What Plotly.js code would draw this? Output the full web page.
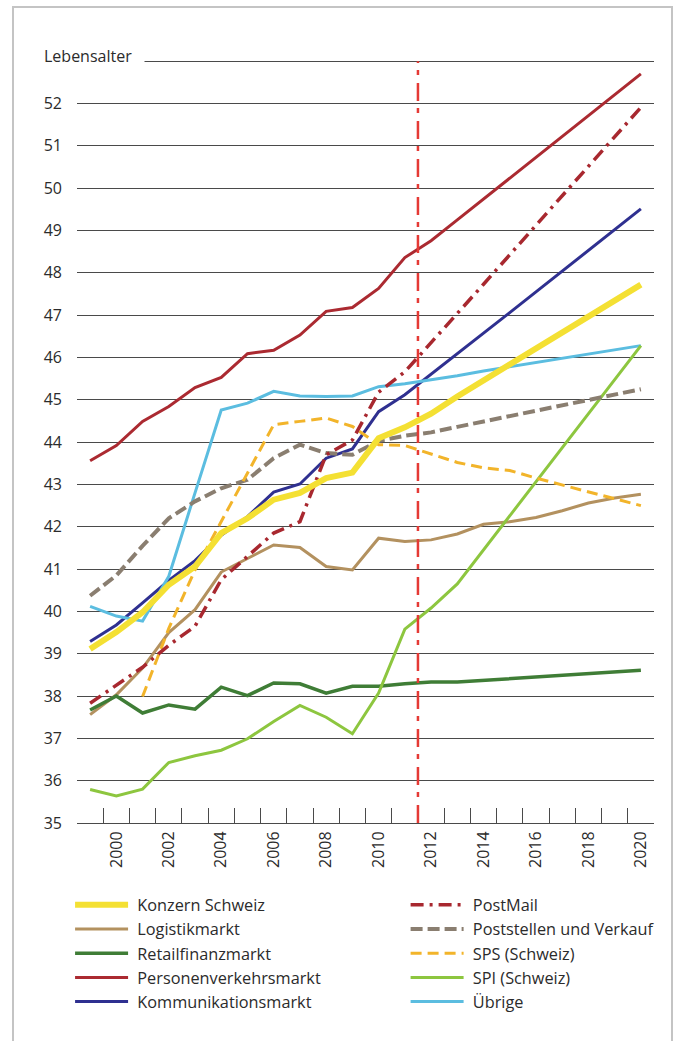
<!DOCTYPE html>
<html>
<head>
<meta charset="utf-8">
<script src="https://cdn.plot.ly/plotly-3.0.1.min.js"></script>
<style>html,body{margin:0;padding:0;background:#fff;}#chart{width:675px;height:1041px;}</style>
</head>
<body>
<div id="chart"></div>
<script>
// ---- data ----
var years = [1999,2000,2001,2002,2003,2004,2005,2006,2007,2008,2009,2010,2011,2012,2013,2014,2015,2016,2017,2018,2019,2020];
var xTickVals = [2000,2002,2004,2006,2008,2010,2012,2014,2016,2018,2020];
var xTickText = ["2000","2002","2004","2006","2008","2010","2012","2014","2016","2018","2020"];
var xBoundaryTicks = [1999.5,2000.5,2001.5,2002.5,2003.5,2004.5,2005.5,2006.5,2007.5,2008.5,2009.5,2010.5,2011.5,2012.5,2013.5,2014.5,2015.5,2016.5,2017.5,2018.5,2019.5];
var yTickVals = [35,36,37,38,39,40,41,42,43,44,45,46,47,48,49,50,51,52,53];
var yTickText = ["35","36","37","38","39","40","41","42","43","44","45","46","47","48","49","50","51","52",""];
var yAxisLabel = "Lebensalter";
var forecastStart = 2011.5;

var konzern      = [39.11,39.51,39.98,40.63,41.06,41.85,42.20,42.64,42.80,43.15,43.28,44.09,44.35,44.67,45.08,45.46,45.84,46.21,46.59,46.97,47.34,47.72];
var logistik     = [37.56,38.03,38.66,39.50,40.04,40.93,41.25,41.57,41.51,41.06,40.98,41.73,41.65,41.69,41.83,42.06,42.12,42.22,42.38,42.56,42.68,42.77];
var retail       = [37.67,38.00,37.60,37.79,37.69,38.21,38.01,38.31,38.29,38.07,38.23,38.23,38.29,38.33,38.33,38.37,38.41,38.45,38.49,38.53,38.57,38.61];
var personen     = [43.56,43.92,44.49,44.84,45.29,45.53,46.09,46.17,46.53,47.09,47.18,47.63,48.36,48.76,49.25,49.74,50.23,50.72,51.21,51.71,52.20,52.70];
var kommunikation= [39.29,39.68,40.20,40.73,41.20,41.80,42.24,42.82,43.01,43.62,43.84,44.72,45.12,45.60,46.09,46.57,47.06,47.55,48.04,48.53,49.02,49.51];
var postmail     = [37.83,38.26,38.68,39.20,39.65,40.75,41.30,41.85,42.12,43.70,44.05,45.18,45.66,46.34,47.04,47.73,48.43,49.12,49.82,50.52,51.21,51.91];
var poststellen  = [40.37,40.85,41.55,42.20,42.60,42.91,43.11,43.62,43.94,43.74,43.70,44.03,44.15,44.23,44.36,44.49,44.61,44.74,44.87,45.00,45.12,45.25];
var sps          = [null,null,37.99,39.60,40.98,42.12,43.27,44.41,44.49,44.57,44.37,43.94,43.92,43.72,43.52,43.39,43.33,43.15,42.99,42.83,42.66,42.50];
var spi          = [35.79,35.64,35.80,36.43,36.59,36.72,36.99,37.40,37.78,37.50,37.11,38.07,39.58,40.08,40.65,41.45,42.26,43.06,43.87,44.67,45.48,46.28];
var uebrige      = [40.12,39.89,39.77,40.83,42.80,44.76,44.92,45.20,45.09,45.08,45.09,45.31,45.38,45.47,45.57,45.68,45.78,45.88,45.98,46.08,46.18,46.28];

var FONT = "'Open Sans', 'Noto Sans', sans-serif";
var TXT = '#2b2b2b';
var GRID = '#4a4a4a';
var PAD = '\u00a0';

function tr(name, y, color, width, dash, legend, rank) {
  return {
    type: 'scatter', mode: 'lines', name: PAD + name, x: years, y: y,
    line: {color: color, width: width, dash: dash || 'solid', shape: 'linear'},
    connectgaps: false, legend: legend, legendrank: rank, hoverinfo: 'skip'
  };
}

var data = [
  tr('Personenverkehrsmarkt', personen, '#ab2a31', 3, 'solid', 'legend', 4),
  tr('Kommunikationsmarkt', kommunikation, '#2f3090', 3, 'solid', 'legend', 5),
  tr('Übrige', uebrige, '#5bbde0', 3, 'solid', 'legend2', 10),
  tr('Logistikmarkt', logistik, '#b3915f', 3, 'solid', 'legend', 2),
  tr('Retailfinanzmarkt', retail, '#3f7d36', 3.5, 'solid', 'legend', 3),
  tr('SPI (Schweiz)', spi, '#8dc63f', 3, 'solid', 'legend2', 9),
  tr('Poststellen und Verkauf', poststellen, '#8a7e70', 4, '12px,5px', 'legend2', 7),
  tr('SPS (Schweiz)', sps, '#f2b42a', 3, '11px,6px', 'legend2', 8),
  tr('PostMail', postmail, '#a8282f', 3.5, '13px,6px,3px,6px', 'legend2', 6),
  tr('Konzern Schweiz', konzern, '#f4e033', 6, 'solid', 'legend', 1)
];

var legendCommon = {
  orientation: 'v', xanchor: 'left', yanchor: 'top',
  bgcolor: 'rgba(0,0,0,0)', borderwidth: 0,
  font: {family: FONT, size: 16.3, color: TXT},
  itemwidth: 53, tracegroupgap: 0, itemclick: false, itemdoubleclick: false
};

var layout = {
  width: 675, height: 1041,
  margin: {l: 77, r: 21, t: 57, b: 218, pad: 0},
  paper_bgcolor: '#ffffff', plot_bgcolor: '#ffffff',
  showlegend: true,
  font: {family: FONT, size: 16, color: TXT},
  xaxis: {
    range: [1998.5, 2020.5], fixedrange: true,
    tickmode: 'array', tickvals: xTickVals, ticktext: xTickText,
    tickangle: -90, ticks: '', ticklabelstandoff: 1,
    tickfont: {family: FONT, size: 16, color: TXT},
    showgrid: false, zeroline: false,
    showline: true, linecolor: GRID, linewidth: 1,
    minor: {tickmode: 'array', tickvals: xBoundaryTicks, ticks: 'inside', ticklen: 15, tickwidth: 1, tickcolor: GRID, showgrid: false}
  },
  yaxis: {
    range: [35, 53.1], fixedrange: true,
    tickmode: 'array', tickvals: yTickVals, ticktext: yTickText,
    ticks: '', ticklabelstandoff: 14, ticklabelshift: -6.5,
    tickfont: {family: FONT, size: 16, color: TXT},
    showgrid: true, gridcolor: GRID, gridwidth: 1,
    zeroline: false, showline: false
  },
  legend: Object.assign({}, legendCommon, {x: -0.012, y: -0.0845}),
  legend2: Object.assign({}, legendCommon, {x: 0.5695, y: -0.0845}),
  annotations: [{
    xref: 'paper', yref: 'y', x: (42 - 77) / 577, y: 53,
    xanchor: 'left', yanchor: 'middle', yshift: 5,
    text: yAxisLabel, showarrow: false, align: 'left',
    width: 99, borderpad: 1, bgcolor: '#ffffff',
    font: {family: FONT, size: 16, color: TXT}
  }],
  shapes: [
    {type: 'line', xref: 'x', yref: 'y', x0: forecastStart, x1: forecastStart, y0: 35, y1: 53,
     line: {color: '#e53a35', width: 2.5, dash: '18px,8px,5px,7px'}, layer: 'above'},
    {type: 'rect', xref: 'paper', yref: 'paper',
     x0: (13 - 77) / 577, x1: (672 - 77) / 577, y0: (823.3 - 1046) / 766.3, y1: (823.3 - 7) / 766.3,
     line: {color: '#c4c4c4', width: 2}, fillcolor: 'rgba(0,0,0,0)', layer: 'below'}
  ]
};

Plotly.newPlot('chart', data, layout, {staticPlot: true, displayModeBar: false, responsive: false});
</script>
</body>
</html>
